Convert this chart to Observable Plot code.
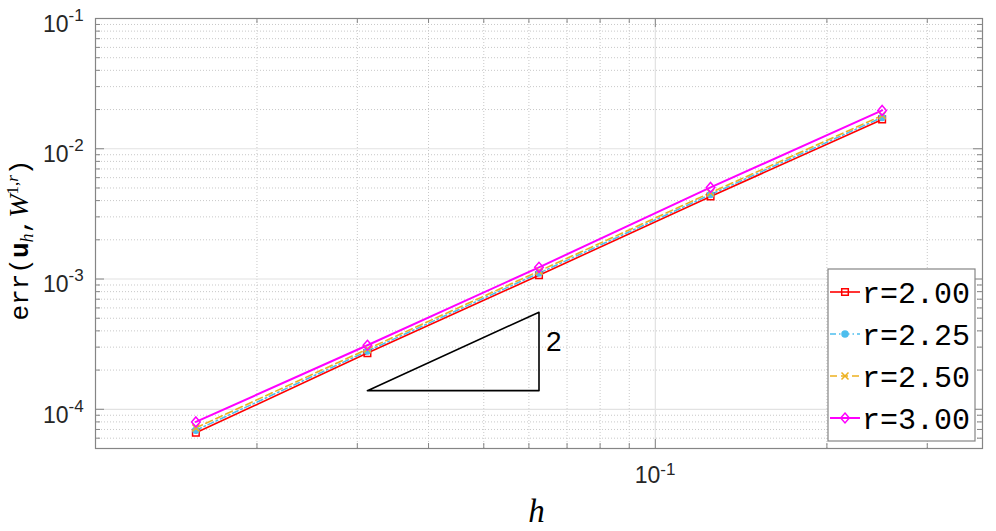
<!DOCTYPE html>
<html><head><meta charset="utf-8">
<script src="https://cdn.jsdelivr.net/npm/d3@7"></script>
<script src="https://cdn.jsdelivr.net/npm/@observablehq/plot@0.6"></script>
<style>body{margin:0;background:#fff} #chart svg{display:block}</style>
</head><body><div id="chart"></div>
<script>
// ---- data ----
const hValues = [1/64, 1/32, 1/16, 1/8, 1/4];
const errR200 = [6.6e-5, 2.70e-4, 1.07e-3, 4.30e-3, 1.68e-2];
const errR225 = [6.9e-5, 2.80e-4, 1.11e-3, 4.45e-3, 1.74e-2];
const errR250 = [7.2e-5, 2.90e-4, 1.15e-3, 4.60e-3, 1.80e-2];
const errR300 = [8.0e-5, 3.10e-4, 1.23e-3, 5.05e-3, 1.97e-2];
const seriesNames = ["r=2.00", "r=2.25", "r=2.50", "r=3.00"];
const triangleH = [1/32, 1/16, 1/16, 1/32];
const triangleErr = [1.39e-4, 1.39e-4, 5.56e-4, 1.39e-4];
const slopeLabel = "2";
const slopeLabelPos = [1/16, 3.3e-4];
const yTickValues = [1e-4, 1e-3, 1e-2, 1e-1];
const yTickExps = ["-4", "-3", "-2", "-1"];
const xTickValues = [0.1];
const xTickExps = ["-1"];
const xDomain = [1/96, 0.375];
const yDomain = [5e-5, 0.1];

// ---- layout ----
const W = 996, H = 531;
const mL = 95, mR = 14, mT = 18, mB = 83;
const innerW = W - mL - mR, innerH = H - mT - mB;
const sans = "'Liberation Sans', Helvetica, Arial, sans-serif";
const mono = "'Liberation Mono', 'Courier New', monospace";
const serif = "'Liberation Serif', 'Times New Roman', serif";
const axisColor = "#858585";

function minorTicks(lo, hi) {
  const out = [];
  for (let e = Math.floor(Math.log10(lo)); e <= Math.ceil(Math.log10(hi)); e++) {
    for (let k = 2; k <= 9; k++) {
      const v = k * Math.pow(10, e);
      if (v > lo && v < hi) out.push(v);
    }
  }
  return out;
}
const xMinor = minorTicks(xDomain[0], xDomain[1]);
const yMinor = minorTicks(yDomain[0], yDomain[1]);

// custom symbols
const sqSym = {draw(c, size) { const r = Math.sqrt(size / Math.PI); c.rect(-r, -r, 2 * r, 2 * r); }};
const diaSym = {draw(c, size) { const r = Math.sqrt(size / Math.PI); const t = r * 1.15;
  c.moveTo(0, -t); c.lineTo(r, 0); c.lineTo(0, t); c.lineTo(-r, 0); c.closePath(); }};
const xSym = {draw(c, size) { const r = Math.sqrt(size / Math.PI);
  c.moveTo(-r, -r); c.lineTo(r, r); c.moveTo(r, -r); c.lineTo(-r, r); }};

const series = [
  {name: seriesNames[0], values: errR200, color: "#ff0000", dash: null, width: 1.6, sym: sqSym, r: 3.3, fill: "none"},
  {name: seriesNames[1], values: errR225, color: "#4DBEEE", dash: "6,3,1.5,3", width: 1.6, sym: "circle", r: 3, fill: "#4DBEEE"},
  {name: seriesNames[2], values: errR250, color: "#EDB120", dash: "7,4", width: 1.6, sym: xSym, r: 3.5, fill: "none"},
  {name: seriesNames[3], values: errR300, color: "#ff00ff", dash: null, width: 2, sym: diaSym, r: 4.3, fill: "none"}
];

const dataMarks = [];
for (const s of series) {
  const rows = hValues.map((h, i) => ({h, e: s.values[i]}));
  dataMarks.push(Plot.line(rows, {x: "h", y: "e", stroke: s.color, strokeWidth: s.width, strokeDasharray: s.dash}));
}
for (const s of series) {
  const rows = hValues.map((h, i) => ({h, e: s.values[i]}));
  dataMarks.push(Plot.dot(rows, {x: "h", y: "e", symbol: s.sym, r: s.r, stroke: s.color, fill: s.fill, strokeWidth: 1.5}));
}

const triRows = triangleH.map((h, i) => ({h, e: triangleErr[i]}));

const chart = Plot.plot({
  width: W, height: H,
  marginLeft: mL, marginRight: mR, marginTop: mT, marginBottom: mB,
  x: {type: "log", domain: xDomain, axis: null},
  y: {type: "log", domain: yDomain, axis: null},
  style: {fontFamily: sans, background: "#fff"},
  marks: [
    // grid
    Plot.ruleX(xMinor, {stroke: "#c8c8c8", strokeDasharray: "1,2", strokeWidth: 1}),
    Plot.ruleY(yMinor, {stroke: "#c8c8c8", strokeDasharray: "1,2", strokeWidth: 1}),
    Plot.ruleX(xTickValues, {stroke: "#e2e2e2", strokeWidth: 1.2}),
    Plot.ruleY(yTickValues, {stroke: "#e2e2e2", strokeWidth: 1.2}),
    // frame
    Plot.frame({stroke: axisColor, strokeWidth: 1.2}),
    // inward ticks: left / right
    Plot.ruleY(yTickValues, {stroke: axisColor, insetRight: innerW - 9}),
    Plot.ruleY(yTickValues, {stroke: axisColor, insetLeft: innerW - 9}),
    Plot.ruleY(yMinor, {stroke: axisColor, insetRight: innerW - 5}),
    Plot.ruleY(yMinor, {stroke: axisColor, insetLeft: innerW - 5}),
    // bottom / top
    Plot.ruleX(xTickValues, {stroke: axisColor, insetTop: innerH - 9}),
    Plot.ruleX(xTickValues, {stroke: axisColor, insetBottom: innerH - 9}),
    Plot.ruleX(xMinor, {stroke: axisColor, insetTop: innerH - 5}),
    Plot.ruleX(xMinor, {stroke: axisColor, insetBottom: innerH - 5}),
    // tick labels
    Plot.text(yTickValues, {y: d => d, frameAnchor: "left", text: () => "10", textAnchor: "end", dx: -27, dy: 6, fontSize: 23, fill: "#262626"}),
    Plot.text(yTickValues, {y: d => d, frameAnchor: "left", text: (d, i) => yTickExps[i], textAnchor: "start", dx: -27, dy: -3, fontSize: 17, fill: "#262626"}),
    Plot.text(xTickValues, {x: d => d, frameAnchor: "bottom", text: () => "10", textAnchor: "end", dx: 5, dy: 34, fontSize: 23, fill: "#262626"}),
    Plot.text(xTickValues, {x: d => d, frameAnchor: "bottom", text: (d, i) => xTickExps[i], textAnchor: "start", dx: 5, dy: 26, fontSize: 17, fill: "#262626"}),
    // data
    ...dataMarks,
    // slope triangle
    Plot.line(triRows, {x: "h", y: "e", stroke: "#000", strokeWidth: 1.6}),
    Plot.text([slopeLabelPos], {x: d => d[0], y: d => d[1], text: () => slopeLabel, textAnchor: "start", dx: 7, fontSize: 28, fill: "#000"})
  ]
});

const svg = d3.select(chart);

// y label
const yl = svg.append("text")
  .attr("transform", `translate(28,${mT + innerH / 2 + 7}) rotate(-90)`)
  .attr("text-anchor", "middle").attr("fill", "#000");
yl.append("tspan").attr("font-family", mono).attr("font-size", 26).text("err(");
yl.append("tspan").attr("font-family", mono).attr("font-size", 26).attr("font-weight", 600).text("u");
yl.append("tspan").attr("font-family", serif).attr("font-style", "italic").attr("font-size", 18).attr("dy", 5).text("h");
yl.append("tspan").attr("font-family", mono).attr("font-size", 26).attr("dy", -5).text(",");
yl.append("tspan").attr("font-family", serif).attr("font-style", "italic").attr("font-size", 28).text("W");
yl.append("tspan").attr("font-family", serif).attr("font-size", 17).attr("dy", -10).text("1,");
yl.append("tspan").attr("font-family", serif).attr("font-style", "italic").attr("font-size", 17).text("r");
yl.append("tspan").attr("font-family", mono).attr("font-size", 26).attr("dy", 10).text(")");

// x label
svg.append("text").attr("x", mL + innerW / 2 - 2).attr("y", 522)
  .attr("text-anchor", "middle").attr("font-family", serif).attr("font-style", "italic")
  .attr("font-size", 33).attr("fill", "#000").text("h");

// legend
const lg = svg.append("g").attr("text-anchor", "start");
lg.append("rect").attr("x", 828).attr("y", 269).attr("width", 147).attr("height", 172)
  .attr("fill", "#fff").attr("stroke", axisColor).attr("stroke-width", 1.2);
const rowY = [292, 334, 376, 418];
series.forEach((s, i) => {
  const y = rowY[i];
  lg.append("line").attr("x1", 830).attr("x2", 860).attr("y1", y).attr("y2", y)
    .attr("stroke", s.color).attr("stroke-width", s.width).attr("stroke-dasharray", s.dash);
  const p = d3.path();
  if (s.sym === "circle") { p.arc(0, 0, s.r, 0, 2 * Math.PI); }
  else s.sym.draw(p, Math.PI * s.r * s.r);
  lg.append("path").attr("d", p.toString()).attr("transform", `translate(845,${y})`)
    .attr("stroke", s.color).attr("fill", s.fill).attr("stroke-width", 1.5);
  lg.append("text").attr("x", 862).attr("y", y).attr("dy", "0.36em").attr("text-anchor", "start")
    .attr("font-family", mono).attr("font-size", 30).attr("fill", "#000").text(s.name);
});

document.getElementById("chart").appendChild(chart);
</script></body></html>
